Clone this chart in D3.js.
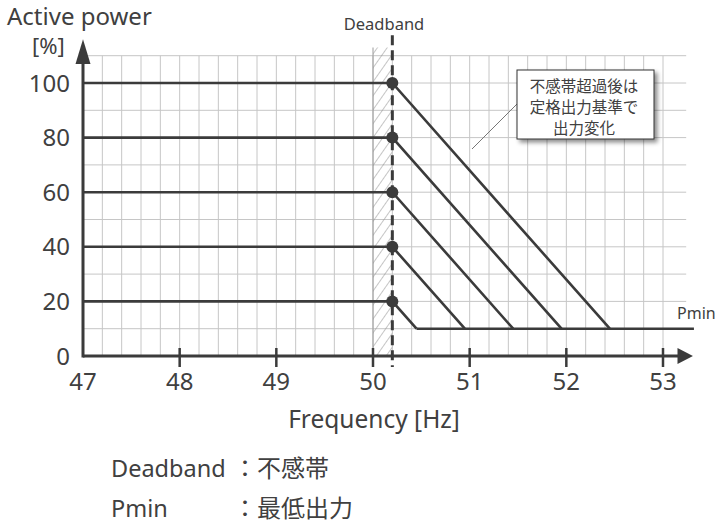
<!DOCTYPE html>
<html>
<head>
<meta charset="utf-8">
<script src="https://cdn.jsdelivr.net/npm/d3@7"></script>
<style>
  body { margin: 0; background: #fff; }
  text { font-family: "Noto Sans", "Noto Sans CJK JP", sans-serif; fill: #404040; }
</style>
</head>
<body>
<div id="chart"></div>
<script>
// data
var levels = [100, 80, 60, 40, 20];               // rated output before deadband [%]
var endFreq = [52.45, 51.95, 51.45, 50.95, 50.45]; // where each line reaches Pmin [Hz]
var pmin = 10;
var pminEnd = 53.32;
var deadband = [50.0, 50.2];
var xTicks = [47, 48, 49, 50, 51, 52, 53];
var yTicks = [0, 20, 40, 60, 80, 100];
var calloutLines = ["不感帯超過後は", "定格出力基準で", "出力変化"];
var legendRows = [["Deadband", "：不感帯"], ["Pmin", "：最低出力"]];

var width = 719, height = 526;
var dark = "#3b3b3b";

var svg = d3.select("#chart").append("svg")
    .attr("width", width)
    .attr("height", height);

var defs = svg.append("defs");
defs.append("filter").attr("id", "shadow")
    .attr("x", "-10%").attr("y", "-10%").attr("width", "130%").attr("height", "140%")
    .append("feDropShadow")
    .attr("dx", 3).attr("dy", 3).attr("stdDeviation", 2)
    .attr("flood-color", "#000").attr("flood-opacity", 0.45);

var hatch = defs.append("pattern").attr("id", "hatch")
    .attr("patternUnits", "userSpaceOnUse")
    .attr("width", 8).attr("height", 8)
    .attr("patternTransform", "rotate(35)");
hatch.append("line")
    .attr("x1", 0).attr("y1", 0).attr("x2", 0).attr("y2", 8)
    .attr("stroke", "#8c8c8c").attr("stroke-width", 1);

var x = d3.scaleLinear().domain([47, 53]).range([83, 663]);
var y = d3.scaleLinear().domain([0, 100]).range([356, 83]);

// grid
var gridX = d3.range(47, 53.001, 0.2);
var gridY = d3.range(10, 110.001, 10);
svg.append("g").selectAll("line")
    .data(gridX)
    .join("line")
    .attr("x1", d => x(d)).attr("x2", d => x(d))
    .attr("y1", y(0)).attr("y2", y(110))
    .attr("stroke", "#c6c6c6").attr("stroke-width", 1);
svg.append("g").selectAll("line")
    .data(gridY)
    .join("line")
    .attr("x1", x(47)).attr("x2", x(53.24))
    .attr("y1", d => y(d)).attr("y2", d => y(d))
    .attr("stroke", "#c6c6c6").attr("stroke-width", 1);

// deadband hatch
svg.append("rect")
    .attr("x", x(deadband[0])).attr("y", y(113))
    .attr("width", x(deadband[1]) - x(deadband[0]))
    .attr("height", y(0) - y(113))
    .attr("fill", "url(#hatch)");
svg.append("line")
    .attr("x1", x(deadband[0])).attr("x2", x(deadband[0]))
    .attr("y1", y(113)).attr("y2", y(0))
    .attr("stroke", "#9a9a9a").attr("stroke-width", 1);

// characteristic lines
var line = d3.line().x(d => x(d[0])).y(d => y(d[1]));
levels.forEach(function (p, i) {
    svg.append("path")
        .attr("d", line([[47, p], [deadband[1], p], [endFreq[i], pmin]]))
        .attr("fill", "none")
        .attr("stroke", dark)
        .attr("stroke-width", 2.6);
});
svg.append("path")
    .attr("d", line([[endFreq[endFreq.length - 1], pmin], [pminEnd, pmin]]))
    .attr("stroke", dark).attr("stroke-width", 2.6);

// deadband dashed line
svg.append("line")
    .attr("x1", x(deadband[1])).attr("x2", x(deadband[1]))
    .attr("y1", y(117.5)).attr("y2", y(0) + 11)
    .attr("stroke", dark).attr("stroke-width", 3)
    .attr("stroke-dasharray", "10,5");

svg.append("g").selectAll("circle")
    .data(levels)
    .join("circle")
    .attr("cx", x(deadband[1]))
    .attr("cy", d => y(d))
    .attr("r", 6)
    .attr("fill", dark);

// axes
svg.append("line")
    .attr("x1", x(47)).attr("x2", x(53.18))
    .attr("y1", y(0)).attr("y2", y(0))
    .attr("stroke", dark).attr("stroke-width", 3);
svg.append("path")
    .attr("d", "M" + x(53.15) + "," + (y(0) - 8) + "L" + x(53.31) + "," + y(0) + "L" + x(53.15) + "," + (y(0) + 8) + "Z")
    .attr("fill", dark);
svg.append("line")
    .attr("x1", x(47)).attr("x2", x(47))
    .attr("y1", y(0) + 1.5).attr("y2", y(110))
    .attr("stroke", dark).attr("stroke-width", 3);
svg.append("path")
    .attr("d", "M" + (x(47) - 7.5) + "," + y(107) + "L" + x(47) + "," + y(116) + "L" + (x(47) + 7.5) + "," + y(107) + "Z")
    .attr("fill", dark);

// x ticks
svg.append("g").selectAll("line")
    .data(xTicks.slice(1))
    .join("line")
    .attr("x1", d => x(d)).attr("x2", d => x(d))
    .attr("y1", y(0) - 8).attr("y2", y(0) + 11)
    .attr("stroke", dark).attr("stroke-width", 2.5);
svg.append("g").selectAll("text")
    .data(xTicks)
    .join("text")
    .attr("x", d => x(d))
    .attr("y", 390)
    .attr("text-anchor", "middle")
    .attr("font-size", 24)
    .text(d => d);

svg.append("g").selectAll("text")
    .data(yTicks)
    .join("text")
    .attr("x", 70)
    .attr("y", d => y(d) + 8.5)
    .attr("text-anchor", "end")
    .attr("font-size", 24)
    .text(d => d);

// titles
svg.append("text").attr("x", 7).attr("y", 25).attr("font-size", 24).text("Active power");
svg.append("text").attr("x", 32).attr("y", 54).attr("font-size", 22).text("[%]");
svg.append("text").attr("x", 374).attr("y", 428).attr("text-anchor", "middle")
    .attr("font-size", 24.5).text("Frequency [Hz]");
svg.append("text").attr("x", 384).attr("y", 30).attr("text-anchor", "middle")
    .attr("font-size", 16.5).text("Deadband");
svg.append("text").attr("x", 677).attr("y", 319)
    .attr("font-size", 16).text("Pmin");

// callout
svg.append("line")
    .attr("x1", 472).attr("y1", 149).attr("x2", 521).attr("y2", 100)
    .attr("stroke", "#777").attr("stroke-width", 1);
svg.append("rect")
    .attr("x", 517).attr("y", 70).attr("width", 137).attr("height", 69)
    .attr("fill", "#fff").attr("stroke", "#333").attr("stroke-width", 1)
    .attr("filter", "url(#shadow)");
svg.append("g").selectAll("text")
    .data(calloutLines)
    .join("text")
    .attr("x", 584)
    .attr("y", (d, i) => 92 + i * 21)
    .attr("text-anchor", "middle")
    .attr("font-size", 15.5)
    .style("font-family", "'Noto Sans CJK JP', sans-serif")
    .text(d => d);

// legend
var legend = svg.append("g").selectAll("g")
    .data(legendRows)
    .join("g")
    .attr("transform", (d, i) => "translate(0," + (477 + i * 40) + ")");
legend.append("text").attr("x", 111).attr("font-size", 23.5).text(d => d[0]);
legend.append("text").attr("x", 233).attr("font-size", 24)
    .style("font-family", "'Noto Sans CJK JP', sans-serif")
    .text(d => d[1]);
</script>
</body>
</html>
